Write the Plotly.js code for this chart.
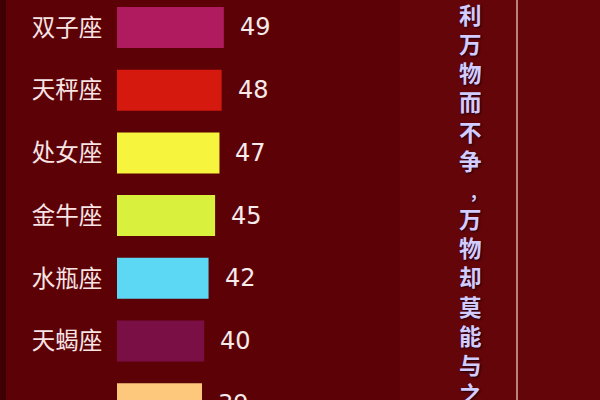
<!DOCTYPE html>
<html>
<head>
<meta charset="utf-8">
<script src="https://cdn.plot.ly/plotly-3.0.1.min.js"></script>
<style>html,body{margin:0;padding:0;background:#5c0207;}#chart{width:600px;height:400px;}</style>
</head>
<body>
<div id="chart"></div>
<script>
// Data
const signs = ["双子座", "天秤座", "处女座", "金牛座", "水瓶座", "天蝎座", "巨蟹座"];
const scores = [49, 48, 47, 45, 42, 40, 39];
const barColors = ["#b01b5f", "#d5190f", "#f6f43c", "#d9f03c", "#5cd7f4", "#7a0f45", "#fdc87c"];
const verseChars = ["利", "万", "物", "而", "不", "争", ",", "万", "物", "却", "莫", "能", "与", "之"];

const W = 600, H = 400, L = 117;
const plotW = W - L;
const pxPerUnit = 2.18;
const rowStep = 62.7, rowTop = 27.5;
const px2x = px => (px - L) / plotW;
const px2y = py => 1 - py / H;

const barTrace = {
  type: "bar",
  orientation: "h",
  x: scores,
  y: signs,
  marker: { color: barColors, line: { width: 0 } },
  hoverinfo: "skip"
};

const annotations = [];
scores.forEach((v, i) => {
  annotations.push({
    x: v, y: px2y(rowTop + rowStep * i), xref: "x", yref: "paper",
    text: String(v), showarrow: false,
    xanchor: "left", yanchor: "middle", xshift: 14,
    font: { family: "DejaVu Sans, Liberation Sans, sans-serif", size: 24, color: "#f6eaea" }
  });
});
verseChars.forEach((c, i) => {
  const isComma = c === ",";
  annotations.push({
    x: px2x(isComma ? 474 : 470), y: px2y(14 + 29.15 * i + (isComma ? 1.5 : 0)), xref: "paper", yref: "paper",
    text: "<b>" + c + "</b>", showarrow: false,
    xanchor: "center", yanchor: "middle",
    font: { family: "Noto Sans CJK SC", size: isComma ? 18 : 22.5, color: "#d3ccff", shadow: "1px 1px 2px #1a0010" }
  });
});

const layout = {
  width: W, height: H,
  margin: { l: L, r: 0, t: 0, b: 0, pad: 0 },
  paper_bgcolor: "#5c0207",
  plot_bgcolor: "#5c0207",
  bargap: 0.346,
  showlegend: false,
  xaxis: { range: [0, plotW / pxPerUnit], visible: false, fixedrange: true },
  yaxis: {
    type: "category",
    range: [(H - rowTop) / rowStep, -rowTop / rowStep],
    showgrid: false, zeroline: false, showline: false,
    ticks: "outside", ticklen: 9, tickcolor: "rgba(0,0,0,0)",
    tickfont: { family: "Noto Sans CJK SC", size: 23.5, color: "#f8e4e4" }
  },
  shapes: [
    { type: "rect", xref: "paper", yref: "paper", x0: px2x(0), x1: px2x(6), y0: 0, y1: 1,
      fillcolor: "#3f0004", line: { width: 0 }, layer: "below" },
    { type: "rect", xref: "paper", yref: "paper", x0: px2x(400), x1: px2x(600), y0: 0, y1: 1,
      fillcolor: "#640509", line: { width: 0 }, layer: "below" },
    { type: "line", xref: "paper", yref: "paper", x0: px2x(517), x1: px2x(517), y0: 0, y1: 1,
      line: { color: "#e0a8a8", width: 1.5 } }
  ],
  annotations: annotations
};

Plotly.newPlot("chart", [barTrace], layout, { displayModeBar: false, staticPlot: true });
</script>
</body>
</html>
